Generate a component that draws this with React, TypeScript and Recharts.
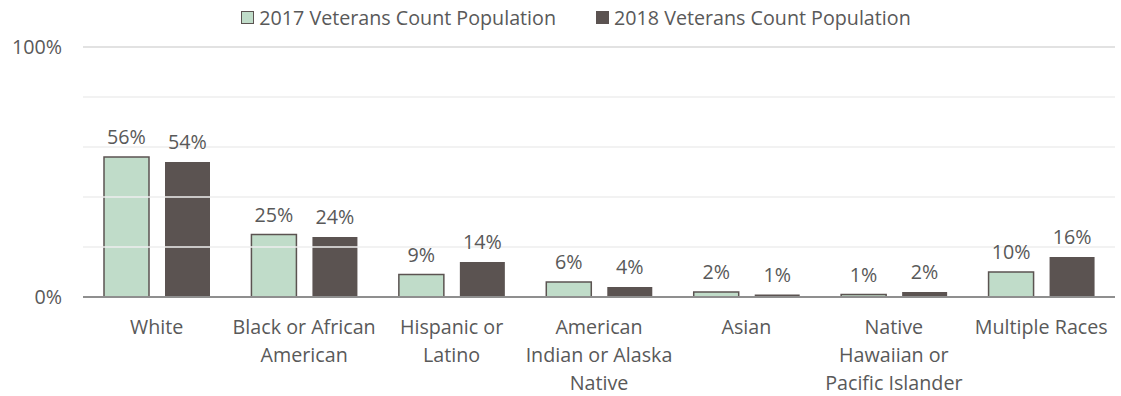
import { Bar, BarChart, LabelList, Legend, ReferenceLine, XAxis, YAxis } from "recharts";

const categories = [
  "White",
  "Black or African\nAmerican",
  "Hispanic or\nLatino",
  "American\nIndian or Alaska\nNative",
  "Asian",
  "Native\nHawaiian or\nPacific Islander",
  "Multiple Races",
];
const pop2017 = [56, 25, 9, 6, 2, 1, 10];
const pop2018 = [54, 24, 14, 4, 1, 2, 16];
const seriesNames = ["2017 Veterans Count Population", "2018 Veterans Count Population"];
const yTicks = [0, 100];
const gridValues = [20, 40, 60, 80, 100];

const FONT = "'Open Sans', Lato, sans-serif";
const FS = 19.7;
const TEXT = "#595959";
const LIGHT = "#c0dcc9";
const DARK = "#5b5351";
const EDGE = "#5b5351";

const data = categories.map((category, i) => ({
  category,
  v2017: pop2017[i],
  v2018: pop2018[i],
}));

const CategoryTick = (props: any) => {
  const { x, y, payload } = props;
  const lines = String(payload.value).split("\n");
  return (
    <text x={x} y={y} textAnchor="middle" fill={TEXT} fontSize={FS} fontFamily={FONT}>
      {lines.map((line, i) => (
        <tspan key={i} x={x} dy={i === 0 ? 37 : 28}>
          {line}
        </tspan>
      ))}
    </text>
  );
};

const renderLegend = () => (
  <div
    style={{
      display: "flex",
      justifyContent: "center",
      alignItems: "center",
      gap: 40,
      height: 24,
      fontFamily: FONT,
      fontSize: FS,
      color: TEXT,
    }}
  >
    {seriesNames.map((name, i) => (
      <span key={name} style={{ display: "flex", alignItems: "center" }}>
        <span
          style={{
            width: 11,
            height: 11,
            marginRight: 5,
            background: i === 0 ? LIGHT : DARK,
            border: `1.5px solid ${EDGE}`,
          }}
        />
        {name}
      </span>
    ))}
  </div>
);

export default function App() {
  return (
    <div style={{ position: "absolute", left: 0, top: 0 }}>
      <BarChart
        width={1121}
        height={396}
        data={data}
        margin={{ top: 23, right: 6, bottom: 0, left: 8 }}
        barCategoryGap={21}
        barGap={16}
      >
        {gridValues.map((v) => (
          <ReferenceLine key={v} y={v} stroke={v === 100 ? "#d9d9d9" : "#eeeeee"} strokeWidth={1.5} />
        ))}
        <XAxis
          dataKey="category"
          height={99}
          interval={0}
          tickLine={false}
          tickSize={0}
          tickMargin={0}
          axisLine={{ stroke: "#8f8f8f", strokeWidth: 2 }}
          tick={<CategoryTick />}
        />
        <YAxis
          width={75}
          domain={[0, 100]}
          ticks={yTicks}
          tickFormatter={(v) => `${v}%`}
          axisLine={false}
          tickLine={false}
          tickSize={0}
          tickMargin={21}
          tick={{ fill: TEXT, fontSize: FS, fontFamily: FONT }}
        />
        <Legend
          verticalAlign="top"
          content={renderLegend}
          wrapperStyle={{ top: 5, left: 31, width: 1090 }}
        />
        <Bar dataKey="v2017" name={seriesNames[0]} fill={LIGHT} stroke={EDGE} strokeWidth={1.5} isAnimationActive={false}>
          <LabelList dataKey="v2017" position="top" offset={13} formatter={(v: any) => `${v}%`} fill={TEXT} fontSize={FS} fontFamily={FONT} />
        </Bar>
        <Bar dataKey="v2018" name={seriesNames[1]} fill={DARK} isAnimationActive={false}>
          <LabelList dataKey="v2018" position="top" offset={13} formatter={(v: any) => `${v}%`} fill={TEXT} fontSize={FS} fontFamily={FONT} />
        </Bar>
      </BarChart>
    </div>
  );
}
